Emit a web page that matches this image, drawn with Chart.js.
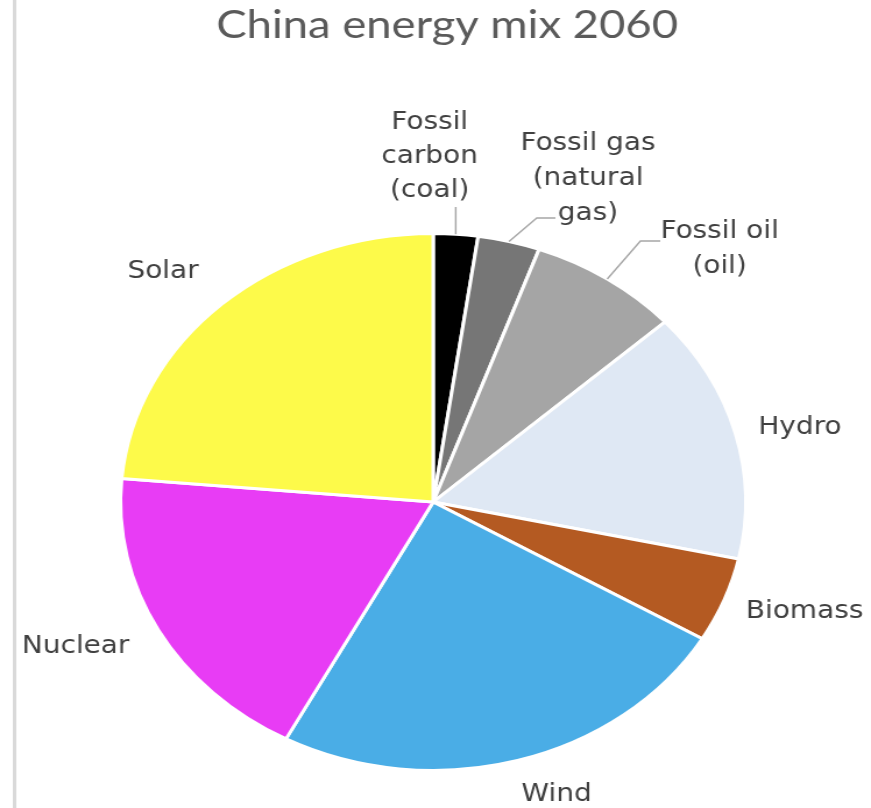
<!DOCTYPE html>
<html>
<head>
<meta charset="utf-8">
<script src="https://cdn.jsdelivr.net/npm/chart.js@4"></script>
<style>
  html, body { margin: 0; padding: 0; background: #fff; overflow: hidden; }
  #wrap { width: 748px; height: 808px; transform: scaleX(1.1644); transform-origin: 0 0; }
</style>
</head>
<body>
<div id="wrap"><canvas id="myChart" width="748" height="808"></canvas></div>
<script>
// data, clockwise from 12 o'clock
var categories = ['Fossil carbon (coal)', 'Fossil gas (natural gas)', 'Fossil oil (oil)', 'Hydro', 'Biomass', 'Wind', 'Nuclear', 'Solar'];
var shares = [2.3, 3.2, 7.8, 15.1, 5.1, 24.3, 18.6, 23.6];
var sliceColors = ['#000000', '#767676', '#a5a5a5', '#dfe8f4', '#b45a22', '#4aade6', '#e83cf5', '#fdfa4a'];

// label text lines and where they sit (drawing units, before the x stretch)
var labelLines = [
  ['Fossil', 'carbon', '(coal)'],
  ['Fossil gas', '(natural', 'gas)'],
  ['Fossil oil', '(oil)'],
  ['Hydro'], ['Biomass'], ['Wind'], ['Nuclear'], ['Solar']
];
var labelPos = [
  [369, 123, 34], [505, 144, 35], [618, 232, 35],
  [687, 428, 0], [691, 612, 0], [478, 795, 0], [65, 647, 0], [140, 272, 0]
];
// leader elbows: [elbowX, elbowY, endX] or null
var leaders = [
  ['same', 207, null],
  [461, 218, 477],
  [550, 241, 567],
  null, null, null, null, null
];

var labelPlugin = {
  id: 'labelPlugin',
  beforeDraw: function(chart) {
    var ctx = chart.ctx;
    ctx.save();
    ctx.fillStyle = '#d9d9d9';
    ctx.fillRect(11, 0, 3, chart.height);
    ctx.restore();
  },
  afterDraw: function(chart) {
    var ctx = chart.ctx;
    var arcs = chart.getDatasetMeta(0).data;
    ctx.save();
    // title
    ctx.fillStyle = '#5a5a5a';
    ctx.font = '39px Lato';
    ctx.textAlign = 'center';
    ctx.textBaseline = 'alphabetic';
    ctx.fillText('China energy mix 2060', 384, 38);

    // leader lines
    ctx.strokeStyle = '#a6a6a6';
    ctx.lineWidth = 1.4;
    leaders.forEach(function(l, i) {
      if (!l) return;
      var a = arcs[i];
      var mid = (a.startAngle + a.endAngle) / 2;
      var px = a.x + Math.cos(mid) * a.outerRadius;
      var py = a.y + Math.sin(mid) * a.outerRadius;
      ctx.beginPath();
      ctx.moveTo(px, py);
      var ex = l[0] === 'same' ? px : l[0];
      ctx.lineTo(ex, l[1]);
      if (l[2] !== null) ctx.lineTo(l[2], l[1]);
      ctx.stroke();
    });

    // category labels
    ctx.fillStyle = '#404040';
    ctx.font = '24px "DejaVu Sans"';
    ctx.textBaseline = 'middle';
    labelLines.forEach(function(lines, i) {
      var p = labelPos[i];
      lines.forEach(function(t, k) {
        ctx.fillText(t, p[0], p[1] + k * p[2]);
      });
    });
    ctx.restore();
  }
};

var ctx = document.getElementById('myChart').getContext('2d');
var myChart = new Chart(ctx, {
  type: 'pie',
  data: {
    labels: categories,
    datasets: [{
      data: shares,
      backgroundColor: sliceColors,
      borderColor: '#ffffff',
      borderWidth: 3
    }]
  },
  options: {
    responsive: false,
    animation: false,
    layout: { padding: { left: 102, right: 106, top: 232, bottom: 36 } },
    plugins: {
      legend: { display: false },
      title: { display: false },
      tooltip: { enabled: false }
    }
  },
  plugins: [labelPlugin]
});
</script>
</body>
</html>
